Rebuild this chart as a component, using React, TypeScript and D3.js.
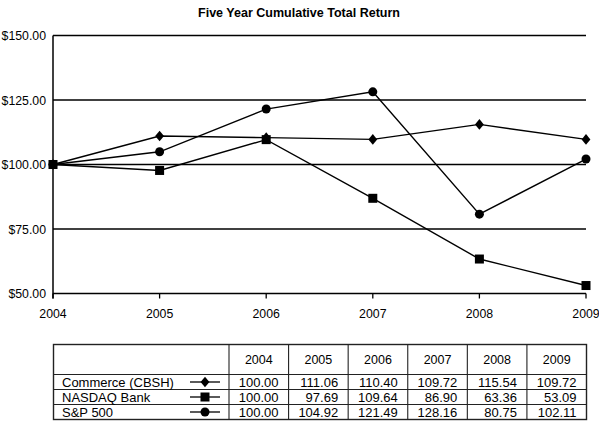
import * as d3 from "d3";

const width = 599;
const height = 424;

const years = ["2004", "2005", "2006", "2007", "2008", "2009"];
const seriesNames = ["Commerce (CBSH)", "NASDAQ Bank", "S&P 500"];
const commerce = [100.0, 111.06, 110.4, 109.72, 115.54, 109.72];
const nasdaqBank = [100.0, 97.69, 109.64, 86.9, 63.36, 53.09];
const sp500 = [100.0, 104.92, 121.49, 128.16, 80.75, 102.11];
const markers = ["diamond", "square", "circle"] as const;
const yTicks = [50, 75, 100, 125, 150];

const seriesValues = [commerce, nasdaqBank, sp500];

const plot = { left: 53, right: 586, top: 35.5, bottom: 293.5 };
const table = { left: 53.5, right: 586.5, top: 344.5, header: 374.5, rowH: 15 };
const fontFamily = "'Liberation Sans', Arial, Helvetica, sans-serif";

function Marker({ kind, x, y }: { kind: string; x: number; y: number }) {
  if (kind === "circle") return <circle cx={x} cy={y} r={4.5} fill="#000" />;
  if (kind === "square")
    return <rect x={x - 4.5} y={y - 4.5} width={9} height={9} fill="#000" />;
  const p = d3.path();
  p.moveTo(x, y - 5.3);
  p.lineTo(x + 4.4, y);
  p.lineTo(x, y + 5.3);
  p.lineTo(x - 4.4, y);
  p.closePath();
  return <path d={p.toString()} fill="#000" />;
}

export default function App() {
  const x = d3.scalePoint<string>().domain(years).range([plot.left, plot.right]);
  const y = d3.scaleLinear().domain([50, 150]).range([plot.bottom, plot.top]);
  const line = d3
    .line<number>()
    .x((_, i) => x(years[i]) ?? 0)
    .y((d) => y(d));

  const col = d3
    .scaleBand<string>()
    .domain(years)
    .range([229, table.right]);
  const tableBottom = table.header + table.rowH * seriesNames.length;

  return (
    <svg
      width={width}
      height={height}
      style={{ position: "absolute", left: 0, top: 0, background: "#fff" }}
      fontFamily={fontFamily}
    >
      {/* 標題 */}
      <text
        x={299}
        y={17}
        textAnchor="middle"
        fontSize={13}
        fontWeight="bold"
        textLength={202}
        lengthAdjust="spacingAndGlyphs"
      >
        Five Year Cumulative Total Return
      </text>

      {/* 格線與 y 軸標籤 */}
      {yTicks.map((t) => (
        <g key={t}>
          <line x1={plot.left} x2={plot.right} y1={y(t)} y2={y(t)} stroke="#000" strokeWidth={1.4} />
          <text x={46} y={y(t) + 4.5} textAnchor="end" fontSize={12.3}>
            {`$${t.toFixed(2)}`}
          </text>
        </g>
      ))}
      <line x1={plot.left} x2={plot.left} y1={plot.top} y2={plot.bottom + 5} stroke="#000" strokeWidth={1.5} />

      {/* x 軸刻度 */}
      {years.map((yr) => (
        <g key={yr}>
          <line x1={x(yr)} x2={x(yr)} y1={plot.bottom} y2={plot.bottom + 5} stroke="#000" strokeWidth={1.3} />
          <text x={x(yr)} y={318} textAnchor="middle" fontSize={12.3}>
            {yr}
          </text>
        </g>
      ))}

      {/* 折線與標記 */}
      {seriesValues.map((vals, si) => (
        <g key={si}>
          <path d={line(vals) ?? ""} fill="none" stroke="#000" strokeWidth={1.4} />
          {vals.map((v, i) => (
            <Marker key={i} kind={markers[si]} x={x(years[i]) ?? 0} y={y(v)} />
          ))}
        </g>
      ))}

      {/* 資料表 */}
      <g>
        <rect
          x={table.left}
          y={table.top}
          width={table.right - table.left}
          height={tableBottom - table.top}
          fill="none"
          stroke="#222"
          strokeWidth={1.4}
        />
        {[table.header, ...seriesNames.slice(1).map((_, i) => table.header + table.rowH * (i + 1))].map(
          (ly, i) => (
            <line key={i} x1={table.left} x2={table.right} y1={ly} y2={ly} stroke="#222" strokeWidth={1.1} />
          ),
        )}
        {years.map((yr) => (
          <g key={yr}>
            <line
              x1={col(yr)}
              x2={col(yr)}
              y1={table.top}
              y2={tableBottom}
              stroke="#222"
              strokeWidth={1.1}
            />
            <text
              x={(col(yr) ?? 0) + col.bandwidth() / 2}
              y={364}
              textAnchor="middle"
              fontSize={12.5}
            >
              {yr}
            </text>
          </g>
        ))}
        {seriesNames.map((name, si) => {
          const rowY = table.header + table.rowH * si;
          const cy = rowY + table.rowH / 2;
          return (
            <g key={name}>
              <text x={62} y={rowY + 12.5} fontSize={13}>
                {name}
              </text>
              <line x1={190} x2={220} y1={cy} y2={cy} stroke="#000" strokeWidth={1.3} />
              <Marker kind={markers[si]} x={205} y={cy} />
              {seriesValues[si].map((v, i) => (
                <text
                  key={i}
                  x={(col(years[i]) ?? 0) + col.bandwidth() - 10}
                  y={rowY + 12.5}
                  textAnchor="end"
                  fontSize={13}
                >
                  {v.toFixed(2)}
                </text>
              ))}
            </g>
          );
        })}
      </g>
    </svg>
  );
}
